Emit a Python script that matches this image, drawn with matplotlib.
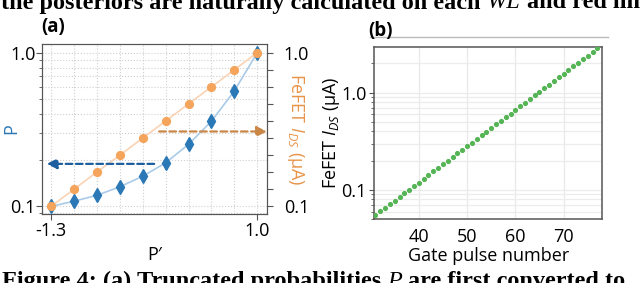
import numpy as np
import matplotlib
matplotlib.use("Agg")
import matplotlib.pyplot as plt
from matplotlib.ticker import FixedLocator, NullFormatter, FixedFormatter, LogLocator

plt.rcParams['font.family'] = ['Open Sans', 'DejaVu Sans']
plt.rcParams['mathtext.fontset'] = 'custom'
plt.rcParams['mathtext.rm'] = 'Open Sans'
plt.rcParams['mathtext.it'] = 'Open Sans:italic'

# ---- data: panel (a) ----
p_prime = [-1.3, -1.044, -0.789, -0.533, -0.278, -0.022, 0.233, 0.489, 0.744, 1.0]
p_vals = [0.100, 0.108, 0.118, 0.134, 0.157, 0.192, 0.253, 0.358, 0.564, 1.0]
ids_vals = [0.100, 0.129, 0.167, 0.215, 0.278, 0.359, 0.464, 0.599, 0.774, 1.0]
a_xticks = [-1.3, 1.0]
a_xticklabels = ['-1.3', '1.0']
a_yticks = [0.1, 1.0]
a_yticklabels = ['0.1', '1.0']

# ---- data: panel (b) ----
pulse = list(range(31, 78))
ids_b = [0.0553, 0.0603, 0.0657, 0.0716, 0.0780, 0.0850, 0.0926, 0.101, 0.110, 0.118,
         0.130, 0.142, 0.155, 0.169, 0.184, 0.200, 0.218, 0.238, 0.259, 0.282,
         0.307, 0.335, 0.365, 0.397, 0.433, 0.471, 0.513, 0.559, 0.609, 0.664,
         0.723, 0.788, 0.858, 0.935, 1.02, 1.11, 1.21, 1.32, 1.44, 1.56,
         1.70, 1.86, 2.02, 2.20, 2.40, 2.61, 2.85]
b_xticks = [40, 50, 60, 70]
b_yticks = [0.1, 1.0]
b_yticklabels = ['0.1', '1.0']

blue = '#2b78b6'
blue_line = '#a9cbe8'
orange = '#f5a45b'
orange_line = '#fad3b4'
spine_c = '#555555'
FS = 13

fig = plt.figure(figsize=(6.4, 2.83), dpi=100)

# ---------- panel (a) ----------
axa = fig.add_axes([0.0656, 0.2438, 0.3516, 0.6007])
axa.set_yscale('log')
axa.set_xlim(-1.40, 1.108)
axa.set_ylim(0.0892, 1.138)
axa.plot(p_prime, p_vals, color=blue_line, lw=1.2, zorder=2)
axa.plot(p_prime, p_vals, ls='none', marker='d', ms=7.5, color=blue, zorder=3)
axa.yaxis.set_major_locator(FixedLocator(a_yticks))
axa.yaxis.set_major_formatter(FixedFormatter(a_yticklabels))
axa.yaxis.set_minor_locator(LogLocator(base=10, subs=np.arange(2, 10)))
axa.yaxis.set_minor_formatter(NullFormatter())
axa.xaxis.set_major_locator(FixedLocator(a_xticks))
axa.xaxis.set_major_formatter(FixedFormatter(a_xticklabels))
axa.xaxis.set_minor_locator(FixedLocator(p_prime))
axa.tick_params(axis='both', which='major', labelsize=FS, length=4, color=spine_c)
axa.tick_params(axis='y', which='major', pad=0.5)
axa.tick_params(axis='x', which='major', pad=2)
axa.tick_params(axis='y', which='minor', length=2.5, color=spine_c)
axa.tick_params(axis='x', which='minor', length=0)
axa.grid(True, which='both', ls=':', lw=0.8, color='#cfcfcf')
axa.set_axisbelow(True)
axa.set_xlabel('P\u2032', fontsize=FS, labelpad=4)
axa.set_ylabel('P', fontsize=FS, color=blue, va='center')
axa.yaxis.set_label_coords(-0.138, 0.5)
for s in axa.spines.values():
    s.set_color(spine_c)

axa2 = axa.twinx()
axa2.set_yscale('log')
axa2.set_ylim(0.0892, 1.138)
axa2.plot(p_prime, ids_vals, color=orange_line, lw=1.2, zorder=2)
axa2.plot(p_prime, ids_vals, ls='none', marker='o', ms=5.6, color=orange, zorder=3)
axa2.yaxis.set_major_locator(FixedLocator(ids_vals))
axa2.yaxis.set_major_formatter(FixedFormatter(['0.1'] + [''] * 8 + ['1.0']))
axa2.yaxis.set_minor_locator(FixedLocator([]))
axa2.tick_params(axis='y', which='major', labelsize=FS, length=4, color=spine_c, pad=8)
axa2.set_ylabel('FeFET $I_{DS}$ (\u03bcA)', fontsize=FS, color='#e8954a',
                rotation=270, va='center', ha='center')
axa2.yaxis.set_label_coords(1.128, 0.5)
for s in axa2.spines.values():
    s.set_color(spine_c)

axa2.annotate('', xy=(-1.348, 0.189), xytext=(-0.15, 0.189),
              arrowprops=dict(arrowstyle='-|>,head_length=0.6,head_width=0.3',
                              color='#1d5e9e', lw=1.6, ls=(0, (3, 1.6)),
                              shrinkA=0, shrinkB=0),
              zorder=5)
axa2.annotate('', xy=(1.108, 0.307), xytext=(-0.094, 0.307),
              arrowprops=dict(arrowstyle='-|>,head_length=0.6,head_width=0.3',
                              color='#c98646', lw=1.6, ls=(0, (3, 1.6)),
                              shrinkA=0, shrinkB=0),
              annotation_clip=False, zorder=5)

# ---------- panel (b) ----------
axb = fig.add_axes([0.585, 0.225, 0.356, 0.609])
axb.set_yscale('log')
axb.set_xlim(30.8, 78.0)
axb.set_ylim(0.05, 2.94)
axb.plot(pulse, ids_b, ls='none', marker='o', ms=2.7, color='#55b555', zorder=3)
axb.xaxis.set_major_locator(FixedLocator(b_xticks))
axb.yaxis.set_major_locator(FixedLocator(b_yticks))
axb.yaxis.set_major_formatter(FixedFormatter(b_yticklabels))
axb.yaxis.set_minor_locator(LogLocator(base=10, subs=np.arange(2, 10)))
axb.yaxis.set_minor_formatter(NullFormatter())
axb.tick_params(axis='x', which='major', labelsize=FS, length=0, pad=6)
axb.tick_params(axis='y', which='major', labelsize=FS, length=3.5, color=spine_c, pad=2)
axb.tick_params(axis='y', which='minor', length=2, color=spine_c)
axb.grid(True, which='major', axis='x', color='#e8e8e8', lw=0.9)
axb.grid(True, which='both', axis='y', color='#ececec', lw=0.9)
axb.set_axisbelow(True)
axb.set_xlabel('Gate pulse number', fontsize=FS, labelpad=1)
axb.set_ylabel('FeFET $I_{DS}$ (\u03bcA)', fontsize=FS, va='center')
axb.yaxis.set_label_coords(-0.19, 0.5)
for s in axb.spines.values():
    s.set_color(spine_c)
    s.set_linewidth(1.1)

# panel labels and rule line
fig.text(0.064, 0.905, '(a)', fontsize=13.5, fontweight='bold', va='center', ha='left')
fig.text(0.576, 0.889, '(b)', fontsize=13.5, fontweight='bold', va='center', ha='left')
fig.add_artist(plt.Line2D([0.578, 0.95], [0.870, 0.870], color='#bbbbbb', lw=1.0,
                          transform=fig.transFigure))

# surrounding paper text (cropped)
serif = ['Liberation Serif', 'DejaVu Serif']
SFS = 17.5
top_y = 1 - 8.5 / 283
t1 = fig.text(0.002, top_y, 'the posteriors are naturally calculated on each',
              fontsize=SFS, fontweight='bold', family=serif, va='baseline')
t2 = axa.annotate('WL', xy=(1, 0), xycoords=t1, xytext=(4.4, 0), textcoords='offset points',
                  fontsize=SFS, fontstyle='italic', family=serif,
                  va='bottom', annotation_clip=False)
t3 = axa.annotate('and red line', xy=(1, 0), xycoords=t2, xytext=(4.4, 0),
                  textcoords='offset points', fontsize=SFS, fontweight='bold',
                  family=serif, va='bottom', annotation_clip=False)

bot_y = 1 - 287 / 283
b1 = fig.text(0.003, bot_y, 'Figure 4: (a) Truncated probabilities',
              fontsize=SFS, fontweight='bold', family=serif, va='baseline')
b2 = axa.annotate('P', xy=(1, 0), xycoords=b1, xytext=(4.4, 0), textcoords='offset points',
                  fontsize=SFS, fontstyle='italic', family=serif,
                  va='bottom', annotation_clip=False)
b3 = axa.annotate('are first converted to', xy=(1, 0), xycoords=b2, xytext=(4.4, 0),
                  textcoords='offset points', fontsize=SFS, fontweight='bold',
                  family=serif, va='bottom', annotation_clip=False)

fig.savefig('out.png', dpi=100)
